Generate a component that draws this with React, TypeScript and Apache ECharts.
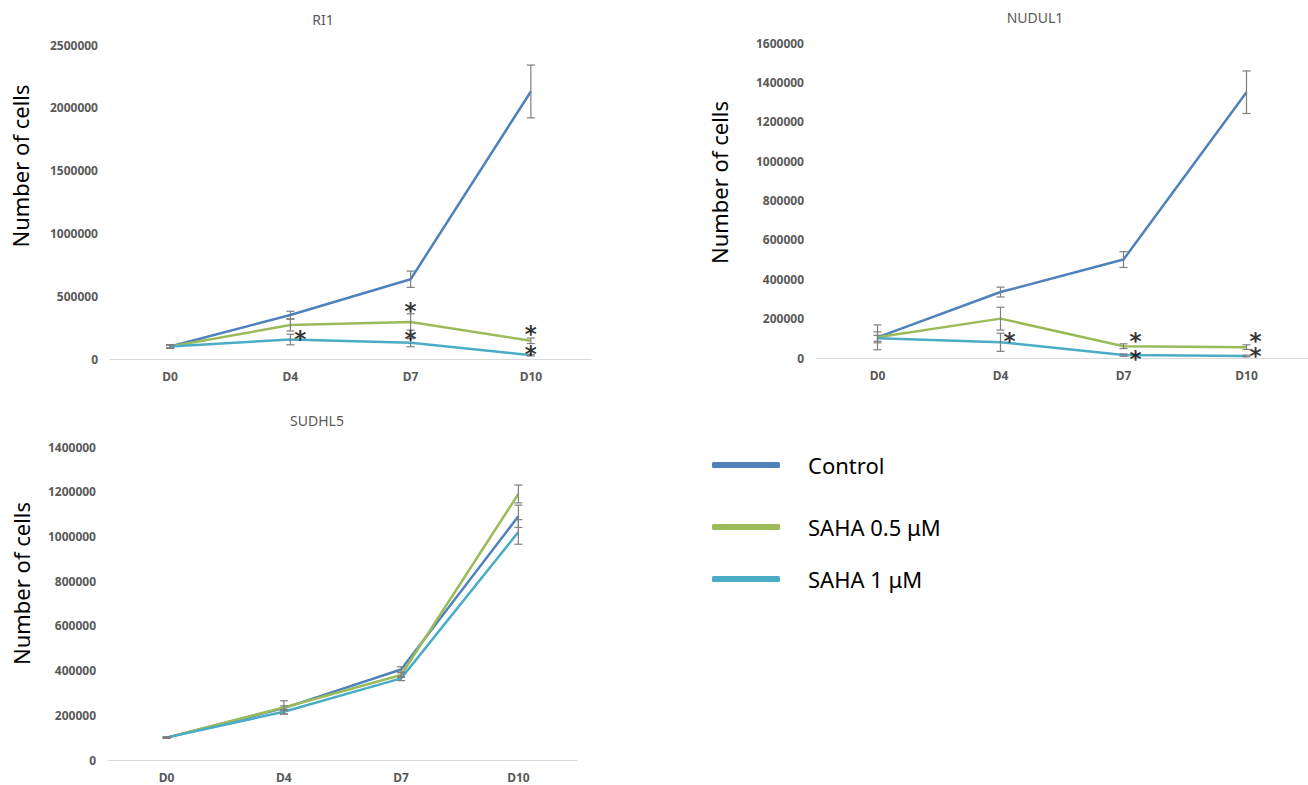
import React, { useEffect, useRef } from "react";
import * as echarts from "echarts";

const days = ["D0", "D4", "D7", "D10"];
const seriesNames = ["Control", "SAHA 0.5 μM", "SAHA 1 μM"];
const chartTitles = ["RI1", "NUDUL1", "SUDHL5"];
const yTicksMax = [2500000, 1600000, 1400000];
const yTicksStep = [500000, 200000, 200000];

// RI1
const ri1Control = [100000, 350000, 635000, 2130000];
const ri1Saha05 = [100000, 270000, 295000, 145000];
const ri1Saha1 = [100000, 155000, 130000, 30000];
const ri1ControlErr = [15000, 30000, 65000, 210000];
const ri1Saha05Err = [10000, 47000, 65000, 22000];
const ri1Saha1Err = [12000, 42000, 32000, 6000];
const ri1Stars = [[1, 207000], [2, 432000], [2, 207000], [3, 247000], [3, 88000]];

// NUDUL1
const nuControl = [105000, 335000, 500000, 1350000];
const nuSaha05 = [105000, 200000, 60000, 55000];
const nuSaha1 = [100000, 80000, 15000, 10000];
const nuControlErr = [28000, 25000, 40000, 108000];
const nuSaha05Err = [63000, 58000, 12000, 12000];
const nuSaha1Err = [15000, 46000, 6000, 4000];
const nuStars = [[1, 118000], [2, 118000], [2, 25000], [3, 118000], [3, 42000]];

// SUDHL5
const suControl = [100000, 232000, 405000, 1090000];
const suSaha05 = [100000, 235000, 380000, 1190000];
const suSaha1 = [100000, 216000, 365000, 1020000];
const suControlErr = [3000, 10000, 12000, 50000];
const suSaha05Err = [3000, 30000, 10000, 40000];
const suSaha1Err = [3000, 10000, 10000, 55000];
const suStars: number[][] = [];

const colors = ["#4F81BD", "#9BBB59", "#4BACC6"];
const starDx = [[10, 0, 0, 0, 0], [9, 12, 12, 9, 9], []];

const charts = [
  { values: [ri1Control, ri1Saha05, ri1Saha1], errs: [ri1ControlErr, ri1Saha05Err, ri1Saha1Err], stars: ri1Stars },
  { values: [nuControl, nuSaha05, nuSaha1], errs: [nuControlErr, nuSaha05Err, nuSaha1Err], stars: nuStars },
  { values: [suControl, suSaha05, suSaha1], errs: [suControlErr, suSaha05Err, suSaha1Err], stars: suStars },
];

const grids = [
  { left: 110, top: 45, width: 481, height: 314 },
  { left: 816, top: 43, width: 492, height: 315 },
  { left: 108, top: 447, width: 469, height: 313 },
];
const titlePos = [
  { x: 323, y: 12 },
  { x: 1035, y: 10 },
  { x: 317, y: 413 },
];
const nameGaps = [79, 86, 76];
const namePadLeft = [72, 36, 40];
const legendTops = [452, 514, 566];

const axisFont = { fontFamily: "Noto Sans", fontWeight: "bold" as const, fontSize: 12, color: "#595959" };

export default function App() {
  const ref = useRef<HTMLDivElement>(null);
  useEffect(() => {
    if (!ref.current) return;
    const chart = echarts.init(ref.current, undefined, { renderer: "svg" });
    const series: any[] = [];
    charts.forEach((c, gi) => {
      c.values.forEach((vals, si) => {
        series.push({
          type: "line",
          name: seriesNames[si],
          xAxisIndex: gi,
          yAxisIndex: gi,
          data: vals,
          symbol: "none",
          lineStyle: { width: 2.5, color: colors[si] },
          itemStyle: { color: colors[si] },
          z: 2,
        });
      });
      const errData: number[][] = [];
      c.values.forEach((vals, si) => {
        vals.forEach((v, i) => errData.push([i, v - c.errs[si][i], v + c.errs[si][i]]));
      });
      series.push({
        type: "custom",
        name: "err" + gi,
        xAxisIndex: gi,
        yAxisIndex: gi,
        data: errData,
        encode: { x: 0, y: [1, 2] },
        z: 3,
        renderItem: (params: any, api: any) => {
          const x = api.value(0);
          const lo = api.coord([x, api.value(1)]);
          const hi = api.coord([x, api.value(2)]);
          const w = 4;
          const st = { stroke: "#7f7f7f", lineWidth: 1.2 };
          return {
            type: "group",
            children: [
              { type: "line", shape: { x1: hi[0], y1: hi[1], x2: lo[0], y2: lo[1] }, style: st },
              { type: "line", shape: { x1: hi[0] - w, y1: hi[1], x2: hi[0] + w, y2: hi[1] }, style: st },
              { type: "line", shape: { x1: lo[0] - w, y1: lo[1], x2: lo[0] + w, y2: lo[1] }, style: st },
            ],
          };
        },
      });
      if (c.stars.length) {
        series.push({
          type: "scatter",
          name: "sig" + gi,
          xAxisIndex: gi,
          yAxisIndex: gi,
          symbolSize: 1,
          itemStyle: { color: "rgba(0,0,0,0)" },
          z: 4,
          data: c.stars.map((s, k) => ({
            value: s,
            label: { offset: [starDx[gi][k], 6] },
          })),
          label: {
            show: true,
            position: "inside",
            formatter: "*",
            fontSize: 23,
            lineHeight: 10,
            fontWeight: "bold",
            fontFamily: "DejaVu Sans",
            color: "#000",
          },
        });
      }
    });

    chart.setOption({
      animation: false,
      title: chartTitles.map((t, i) => ({
        text: t,
        left: titlePos[i].x,
        top: titlePos[i].y,
        textAlign: "center",
        padding: 0,
        textStyle: { fontFamily: "Noto Sans", fontWeight: "normal", fontSize: 14, color: "#595959" },
      })),
      legend: seriesNames.map((n, i) => ({
        data: [n],
        left: 712,
        top: legendTops[i],
        orient: "vertical",
        icon: "roundRect",
        itemWidth: 68,
        itemHeight: 6,
        padding: 0,
        selectedMode: false,
        textStyle: { fontSize: 22, fontFamily: "Noto Sans", color: "#000", lineHeight: 26, padding: [0, 0, 0, 23] },
      })),
      grid: grids.map((g) => ({ ...g, containLabel: false })),
      xAxis: grids.map((_, i) => ({
        type: "category",
        gridIndex: i,
        data: days,
        boundaryGap: true,
        axisLine: { lineStyle: { color: "#d9d9d9", width: 1 } },
        axisTick: { show: false },
        axisLabel: { ...axisFont, margin: 11 },
      })),
      yAxis: grids.map((_, i) => ({
        type: "value",
        gridIndex: i,
        min: 0,
        max: yTicksMax[i],
        interval: yTicksStep[i],
        axisLine: { show: false },
        axisTick: { show: false },
        splitLine: { show: false },
        axisLabel: { ...axisFont, margin: 12, formatter: (v: number) => String(v) },
        name: "Number of cells",
        nameLocation: "middle",
        nameRotate: 90,
        nameGap: nameGaps[i],
        nameTextStyle: { fontFamily: "Noto Sans", fontSize: 22, color: "#000", padding: [0, 0, 0, namePadLeft[i]] },
      })),
      series,
    });
    return () => chart.dispose();
  }, []);
  return <div ref={ref} style={{ position: "fixed", left: 0, top: 0, width: 1308, height: 785, background: "#fff" }} />;
}
